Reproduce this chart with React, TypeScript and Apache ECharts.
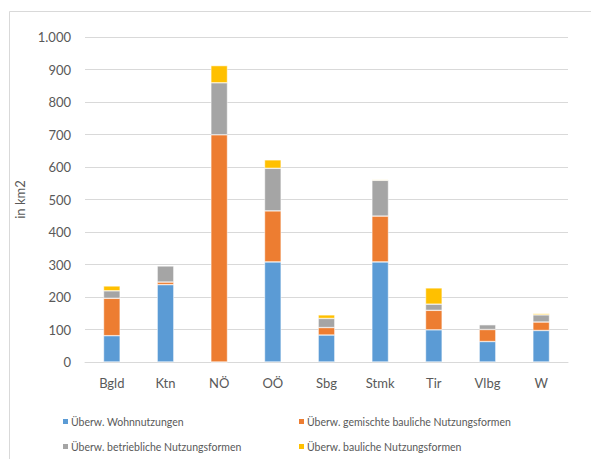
import React, { useEffect, useRef } from "react";
import * as echarts from "echarts";

// Bundesländer
const categories = ["Bgld", "Ktn", "NÖ", "OÖ", "Sbg", "Stmk", "Tir", "Vlbg", "W"];

// Flächen in km2 je Nutzungsform
const wohnen = [81, 238, 0, 308, 83, 308, 99, 63, 97];
const gemischt = [115, 8, 699, 157, 23, 141, 60, 37, 26];
const betrieblich = [23, 50, 160, 131, 28, 110, 19, 15, 22];
const baulich = [15, 0, 53, 26, 11, 2, 50, 0, 4];

const seriesNames = [
  "Überw. Wohnnutzungen",
  "Überw. gemischte bauliche Nutzungsformen",
  "Überw. betriebliche Nutzungsformen",
  "Überw. bauliche Nutzungsformen",
];
const seriesValues = [wohnen, gemischt, betrieblich, baulich];
const colors = ["#5B9BD5", "#ED7D31", "#A5A5A5", "#FFC000"];

const FONT = "Lato, 'Open Sans', sans-serif";
const TEXT = "#595959";

export default function App() {
  const ref = useRef<HTMLDivElement>(null);

  useEffect(() => {
    if (!ref.current) return;
    const chart = echarts.init(ref.current, undefined, { renderer: "svg" });

    const legendPos = [
      { left: 56, top: 411 },
      { left: 292, top: 411 },
      { left: 56, top: 436 },
      { left: 292, top: 436 },
    ];

    chart.setOption({
      animation: false,
      backgroundColor: "#ffffff",
      textStyle: { fontFamily: FONT },
      graphic: [
        {
          type: "rect",
          shape: { x: 9.5, y: 11.5, width: 700, height: 600 },
          style: { fill: "none", stroke: "#d9d9d9", lineWidth: 1 },
          silent: true,
        },
      ],
      grid: { left: 85, right: 23, top: 37, bottom: 97 },
      legend: seriesNames.map((n, i) => ({
        data: [n],
        ...legendPos[i],
        itemWidth: 7,
        itemHeight: 7,
        itemGap: 4,
        icon: "rect",
        selectedMode: false,
        textStyle: { fontSize: 10.5, color: TEXT, fontFamily: FONT, padding: [0, 0, 0, -3] },
      })),
      xAxis: {
        type: "category",
        data: categories,
        axisLine: { lineStyle: { color: "#d9d9d9", width: 1 } },
        axisTick: { show: false },
        axisLabel: { color: TEXT, fontSize: 13, margin: 14, fontFamily: FONT },
      },
      yAxis: {
        type: "value",
        min: 0,
        max: 1000,
        interval: 100,
        name: "in km2",
        nameLocation: "middle",
        nameGap: 52,
        nameRotate: 90,
        nameTextStyle: { color: TEXT, fontSize: 13, fontFamily: FONT },
        axisLine: { show: false },
        axisTick: { show: false },
        splitLine: { lineStyle: { color: "#d9d9d9", width: 1 } },
        axisLabel: {
          color: TEXT,
          fontSize: 13,
          margin: 14,
          fontFamily: FONT,
          formatter: (v: number) => v.toLocaleString("de-DE"),
        },
      },
      series: seriesNames.map((n, i) => ({
        name: n,
        type: "bar",
        stack: "total",
        barWidth: "31%",
        data: seriesValues[i],
        itemStyle: { color: colors[i], borderColor: "#ffffff", borderWidth: 0.5 },
      })),
    });

    return () => chart.dispose();
  }, []);

  return (
    <div
      ref={ref}
      style={{ position: "fixed", left: 0, top: 0, width: 591, height: 459 }}
    />
  );
}
